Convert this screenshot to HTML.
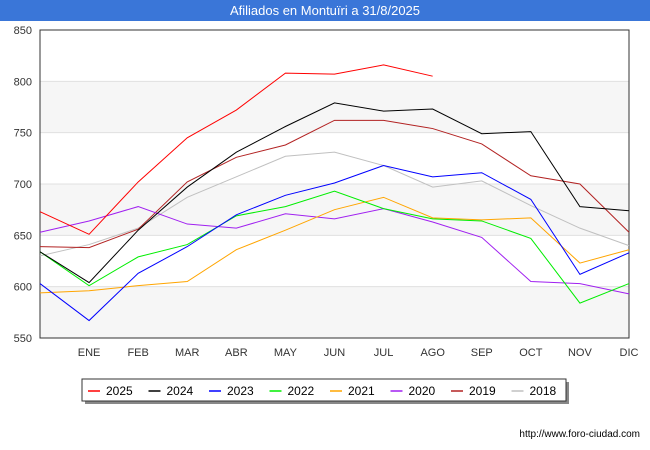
<!DOCTYPE html>
<html><head><meta charset="utf-8"><style>
body{margin:0;width:650px;height:450px;background:#fff;font-family:"Liberation Sans",sans-serif;overflow:hidden}
#title{position:absolute;left:0;top:0;width:650px;height:21px;background:#3a76d8;color:#fff;font-size:13px;text-align:center;line-height:21px}
svg{position:absolute;left:0;top:0}
</style></head><body>
<div id="title">Afiliados en Montuïri a 31/8/2025</div>
<svg id="c" width="650" height="450"></svg>
<script>
const months=["","ENE","FEB","MAR","ABR","MAY","JUN","JUL","AGO","SEP","OCT","NOV","DIC"];
const yTicks=[550,600,650,700,750,800,850];
const names=["2025","2024","2023","2022","2021","2020","2019","2018"];
const colors=["#ff0000","#000000","#0000ff","#00ee00","#ffa500","#a020f0","#b22222","#c0c0c0"];
const s2025=[673,651,702,745,772,808,807,816,805];
const s2024=[634,604,655,697,731,756,779,771,773,749,751,678,674];
const s2023=[603,567,613,639,670,689,701,718,707,711,685,612,633];
const s2022=[634,601,629,641,669,678,693,676,666,664,647,584,603];
const s2021=[594,596,601,605,636,655,675,687,667,665,667,623,636];
const s2020=[653,664,678,661,657,671,666,676,663,648,605,603,593];
const s2019=[639,638,656,702,726,738,762,762,754,739,708,700,653];
const s2018=[630,641,657,687,707,727,731,718,697,703,679,657,640];
const series=[s2025,s2024,s2023,s2022,s2021,s2020,s2019,s2018];
const svg=document.getElementById('c');const NS="http://www.w3.org/2000/svg";
const X0=40,X1=629,Y0=30,Y1=338;
const x=i=>X0+i*(X1-X0)/12;
const y=v=>Y1-(v-550)*(Y1-Y0)/300;
function mk(t,a,p){const e=document.createElementNS(NS,t);for(const k in a)e.setAttribute(k,a[k]);(p||svg).appendChild(e);return e;}
// bands
for(let i=0;i<yTicks.length-1;i++){if(i%2==0){const r=mk('rect',{x:X0,y:y(yTicks[i+1]),width:X1-X0,height:y(yTicks[i])-y(yTicks[i+1]),fill:i==0||i==2||i==4?'#f6f6f6':'#fff'});

}}
yTicks.forEach(v=>{const l=mk('line',{x1:X0,x2:X1,y1:y(v),y2:y(v),stroke:'#e0e0e0'});


const t=mk('text',{x:X0-8,y:y(v)+4,'text-anchor':'end','font-size':11,fill:'#333'});t.textContent=v;

});
months.forEach((m,i)=>{if(!m)return;const t=mk('text',{x:x(i),y:356,'text-anchor':'middle','font-size':11,fill:'#333'});t.textContent=m;

});
mk('rect',{x:X0,y:Y0,width:X1-X0,height:Y1-Y0,fill:'none',stroke:'#333'});
for(let k=series.length-1;k>=0;k--){const p=mk('polyline',{points:series[k].map((v,i)=>x(i)+','+y(v)).join(' '),fill:'none',stroke:colors[k],'stroke-width':1});

}
// legend
mk('rect',{x:85,y:382,width:484,height:22,fill:'#888'});
const lg=mk('rect',{x:82,y:379,width:484,height:22,fill:'#fff',stroke:'#333'});


names.forEach((n,k)=>{const lx=88+k*60.5;
const g=mk('g',{});


mk('line',{x1:lx,x2:lx+12,y1:391,y2:391,stroke:colors[k],'stroke-width':1.5},g);
const t=mk('text',{x:lx+18,y:395,'font-size':12,fill:'#000'},g);t.textContent=n;});
const u=mk('text',{x:640,y:437,'text-anchor':'end','font-size':10,fill:'#000'});u.textContent='http://www.foro-ciudad.com';


</script>
</body></html>
